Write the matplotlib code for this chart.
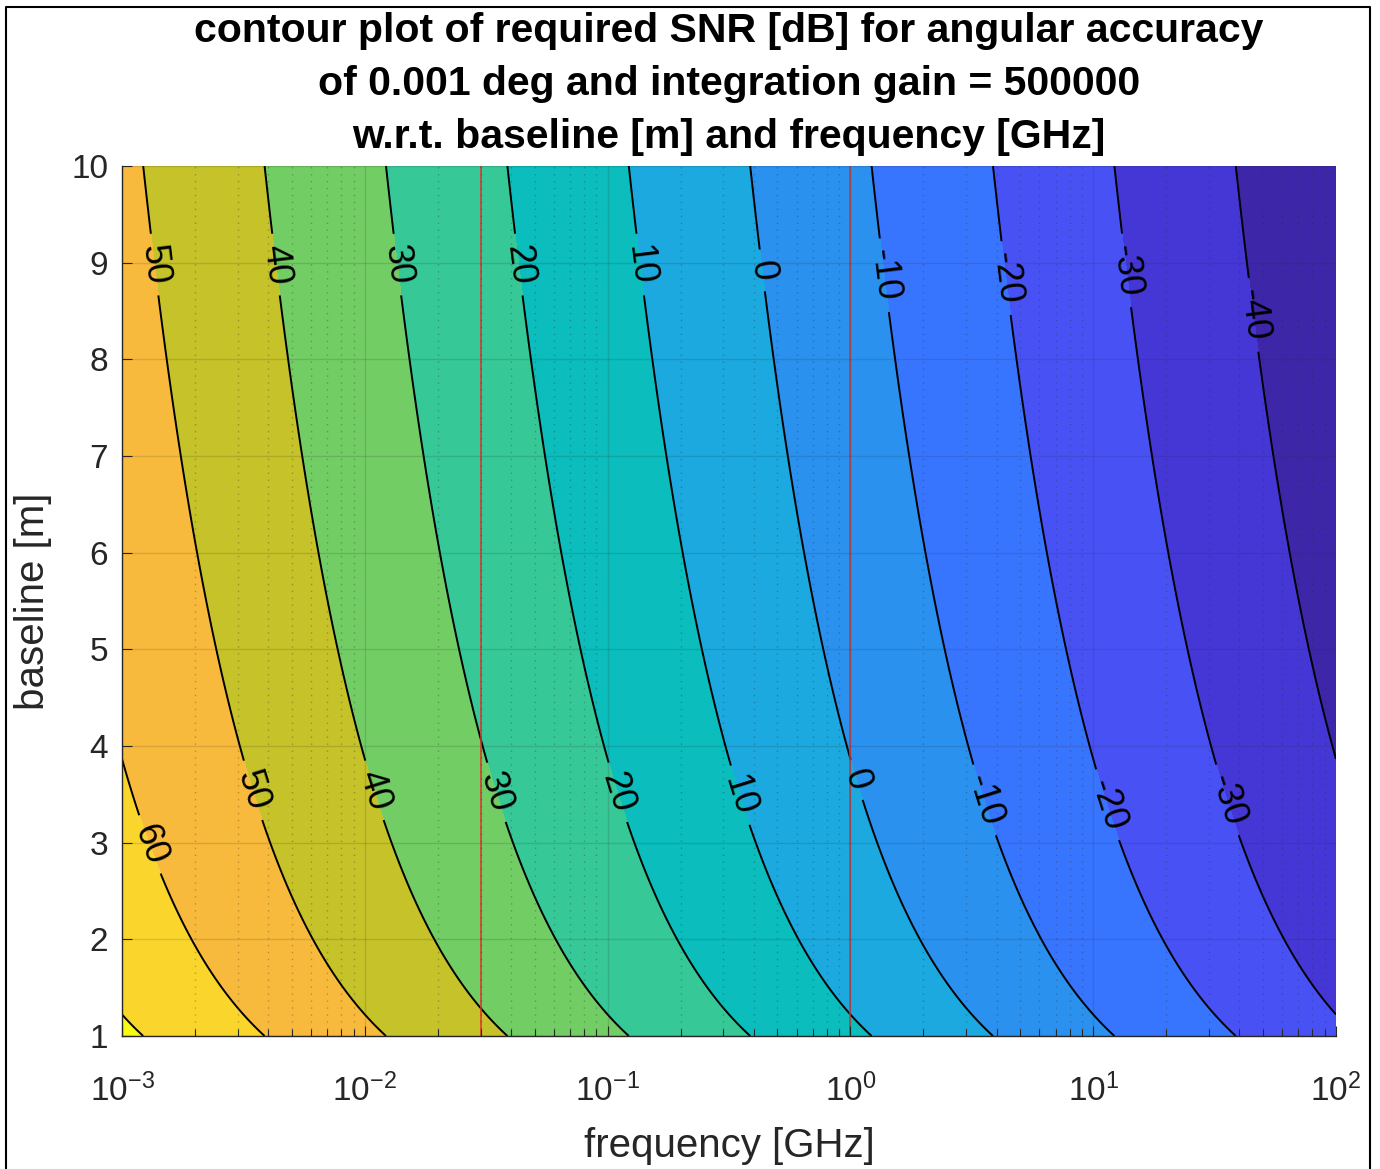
import matplotlib.pyplot as plt
import numpy as np
from matplotlib.colors import ListedColormap, Normalize
from matplotlib.lines import Line2D
from matplotlib.ticker import LogLocator, NullLocator

plt.rcParams["font.family"] = ["Liberation Sans", "DejaVu Sans"]
plt.rcParams["mathtext.default"] = "regular"
plt.rcParams["axes.unicode_minus"] = False

# system parameters
accuracy_deg = 0.001
integration_gain = 500000
c_light = 299792458.0

freq_lim_ghz = [1e-3, 1e2]
baseline_lim_m = [1, 10]
levels = [-40, -30, -20, -10, 0, 10, 20, 30, 40, 50, 60, 70]

# label placement along each contour (baseline in m)
top_labels = [50, 40, 30, 20, 10, 0, -10, -20, -30, -40]
top_label_baseline = [8.98, 8.98, 8.98, 8.98, 8.98, 8.92, 8.87, 8.84, 8.92, 8.46]
low_labels = [60, 50, 40, 30, 20, 10, 0, -10, -20, -30]
low_label_baseline = [2.98, 3.54, 3.54, 3.52, 3.52, 3.49, 3.65, 3.44, 3.39, 3.44]

marker_freqs_ghz = [0.03, 1.0]

# MATLAB parula, 64 entries
parula = [
    (0.2422, 0.1504, 0.6603), (0.2504, 0.1650, 0.7076), (0.2578, 0.1818, 0.7511),
    (0.2647, 0.1978, 0.7952), (0.2706, 0.2147, 0.8364), (0.2751, 0.2342, 0.8710),
    (0.2783, 0.2559, 0.8991), (0.2803, 0.2782, 0.9221), (0.2813, 0.3006, 0.9414),
    (0.2810, 0.3228, 0.9579), (0.2795, 0.3447, 0.9717), (0.2760, 0.3667, 0.9829),
    (0.2699, 0.3892, 0.9906), (0.2602, 0.4123, 0.9952), (0.2440, 0.4358, 0.9988),
    (0.2206, 0.4603, 0.9973), (0.1963, 0.4847, 0.9892), (0.1834, 0.5074, 0.9798),
    (0.1786, 0.5289, 0.9682), (0.1764, 0.5499, 0.9520), (0.1687, 0.5703, 0.9359),
    (0.1540, 0.5902, 0.9218), (0.1460, 0.6091, 0.9079), (0.1380, 0.6276, 0.8973),
    (0.1248, 0.6459, 0.8883), (0.1113, 0.6635, 0.8763), (0.0952, 0.6798, 0.8598),
    (0.0689, 0.6948, 0.8394), (0.0297, 0.7082, 0.8163), (0.0036, 0.7203, 0.7917),
    (0.0067, 0.7312, 0.7660), (0.0433, 0.7411, 0.7394), (0.0964, 0.7500, 0.7120),
    (0.1408, 0.7584, 0.6842), (0.1717, 0.7670, 0.6554), (0.1938, 0.7758, 0.6251),
    (0.2161, 0.7843, 0.5923), (0.2470, 0.7918, 0.5567), (0.2906, 0.7973, 0.5188),
    (0.3406, 0.8008, 0.4789), (0.3909, 0.8029, 0.4354), (0.4456, 0.8024, 0.3909),
    (0.5044, 0.7993, 0.3480), (0.5616, 0.7942, 0.3045), (0.6174, 0.7876, 0.2612),
    (0.6720, 0.7793, 0.2227), (0.7242, 0.7698, 0.1910), (0.7738, 0.7598, 0.1646),
    (0.8203, 0.7498, 0.1535), (0.8634, 0.7406, 0.1596), (0.9035, 0.7330, 0.1774),
    (0.9393, 0.7288, 0.2100), (0.9728, 0.7298, 0.2394), (0.9956, 0.7434, 0.2371),
    (0.9970, 0.7659, 0.2199), (0.9952, 0.7893, 0.2028), (0.9892, 0.8136, 0.1885),
    (0.9786, 0.8386, 0.1766), (0.9676, 0.8639, 0.1643), (0.9610, 0.8890, 0.1537),
    (0.9597, 0.9135, 0.1423), (0.9628, 0.9373, 0.1265), (0.9691, 0.9606, 0.1064),
    (0.9769, 0.9839, 0.0805),
]


def required_snr_db(f_ghz, d_m):
    lam = c_light / (f_ghz * 1e9)
    sigma = np.deg2rad(accuracy_deg)
    snr = (lam / (2 * np.pi * d_m * sigma)) ** 2 / integration_gain
    return 10 * np.log10(snr)


def freq_on_level(level, d_m):
    # snr falls by 20 dB per decade of frequency
    return 10 ** ((required_snr_db(1.0, d_m) - level) / 20)


f = np.logspace(np.log10(freq_lim_ghz[0]), np.log10(freq_lim_ghz[1]), 600)
d = np.linspace(baseline_lim_m[0], baseline_lim_m[1], 400)
F, D = np.meshgrid(f, d)
Z = required_snr_db(F, D)

cmap = ListedColormap(parula)
norm = Normalize(Z.min(), Z.max())
bounds = [Z.min() - 1] + levels + [Z.max() + 1]
band_colors = [cmap(norm(Z.min()))] + [cmap(norm(l)) for l in levels]

fig = plt.figure(figsize=(13.8, 11.69), dpi=100)
ax = fig.add_axes([122 / 1380, 1 - 1036 / 1169, (1336 - 122) / 1380, (1036 - 166) / 1169])
ax.set_xscale("log")
ax.set_xlim(freq_lim_ghz)
ax.set_ylim(baseline_lim_m)

ax.contourf(F, D, Z, levels=bounds, colors=band_colors, zorder=0)
cs = ax.contour(F, D, Z, levels=levels, colors="k", linewidths=1.4,
                linestyles="solid", zorder=1)

label_pts = [(freq_on_level(l, b), b) for l, b in zip(top_labels, top_label_baseline)]
label_pts += [(freq_on_level(l, b), b) for l, b in zip(low_labels, low_label_baseline)]
ax.clabel(cs, manual=label_pts, fontsize=26, inline=True, inline_spacing=11, fmt="%d", colors="k")

for fm in marker_freqs_ghz:
    ax.axvline(fm, color="#E0302A", lw=1.1, zorder=1.5)

ax.set_axisbelow(False)
ax.grid(True, which="major", color="#262626", alpha=0.15, lw=1)
ax.xaxis.set_minor_locator(LogLocator(base=10, subs=np.arange(2, 10)))
ax.yaxis.set_minor_locator(NullLocator())
ax.grid(True, which="minor", axis="x", color="#262626", alpha=0.3, lw=1, ls=(0, (1, 4)))
ax.set_yticks(range(1, 11))

ax.tick_params(which="both", direction="in", top=False, right=False, colors="#262626", labelsize=24)
ax.tick_params(which="major", length=7, width=0.8)
ax.tick_params(which="minor", length=5, width=0.8)
ax.tick_params(axis="x", pad=27)
ax.tick_params(axis="y", pad=10)
for side in ["top", "right"]:
    ax.spines[side].set_visible(False)
for side in ["left", "bottom"]:
    ax.spines[side].set_color("#262626")
    ax.spines[side].set_linewidth(1)

ax.set_xlabel("frequency [GHz]", fontsize=29, color="#262626", labelpad=14)
ax.set_ylabel("baseline [m]", fontsize=29, color="#262626", labelpad=14)
ax.set_title(
    "contour plot of required SNR [dB] for angular accuracy\n"
    f"of {accuracy_deg:g} deg and integration gain = {integration_gain}\n"
    "w.r.t. baseline [m] and frequency [GHz]",
    fontsize=29.5, fontweight="bold", linespacing=1.5, pad=13,
)

fig.add_artist(Line2D([6 / 1380, 6 / 1380, 1370 / 1380, 1370 / 1380],
                      [0, 1 - 7 / 1169, 1 - 7 / 1169, 0],
                      transform=fig.transFigure, color="k", lw=1.5))

fig.savefig("out.png", dpi=100)
